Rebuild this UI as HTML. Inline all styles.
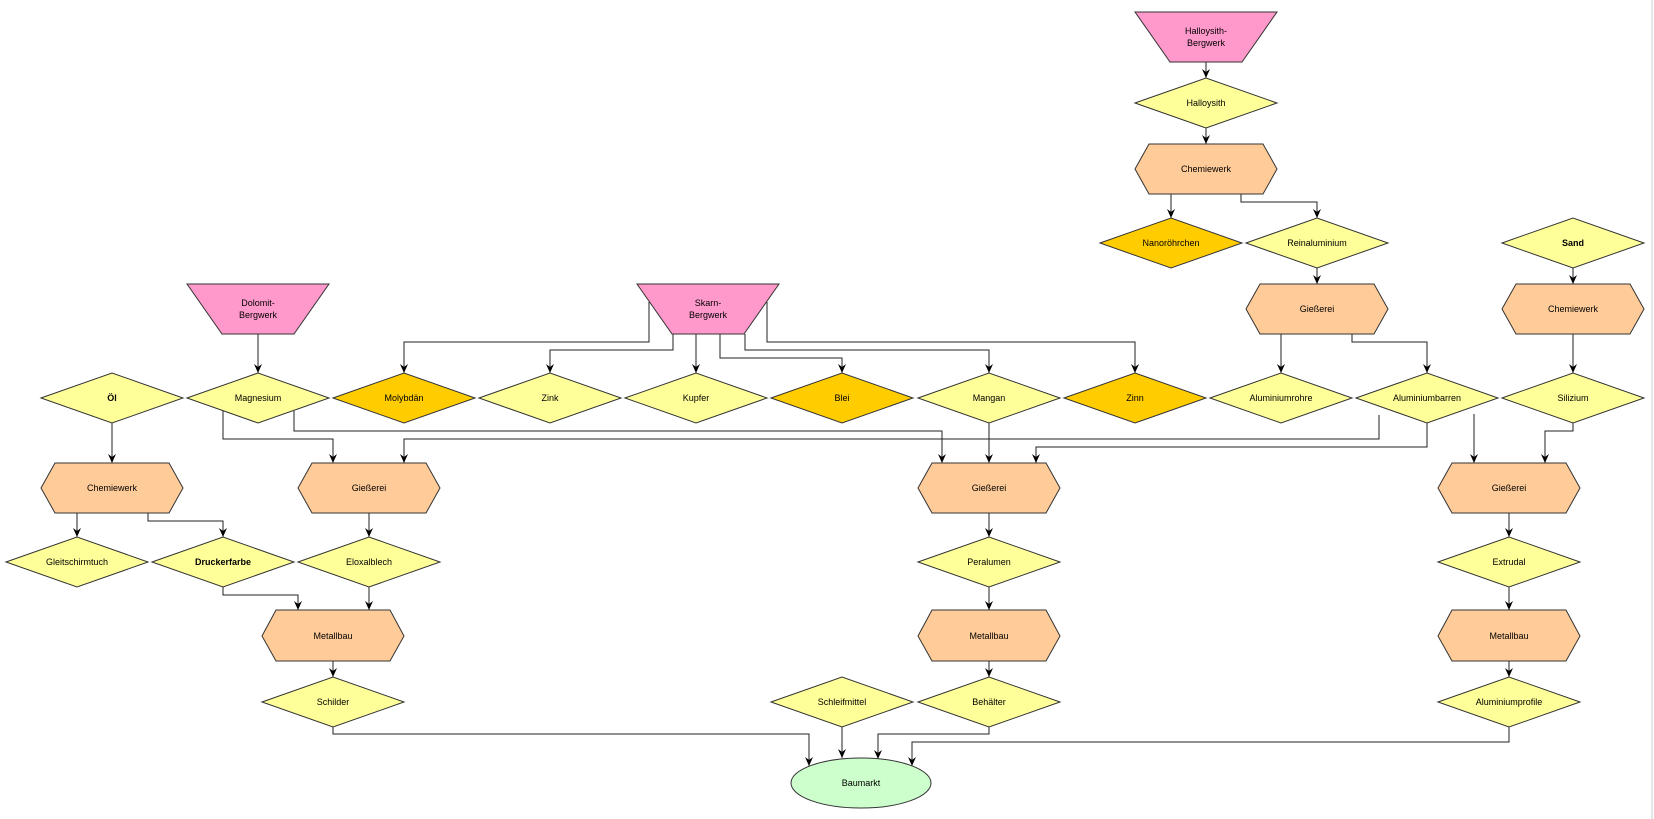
<!DOCTYPE html>
<html><head><meta charset="utf-8"><style>
html,body{margin:0;padding:0;background:#fff;}
svg{display:block;}
text{font-family:"Liberation Sans",Arial,sans-serif;font-size:9px;fill:#000;text-anchor:middle;dominant-baseline:central;}
.b{font-weight:bold;}
.y{fill:#FFFF99;stroke:#333;stroke-width:1;}
.o{fill:#FFCC00;stroke:#333;stroke-width:1;}
.p{fill:#FFCC99;stroke:#333;stroke-width:1;}
.k{fill:#FF99CC;stroke:#333;stroke-width:1;}
.g{fill:#CCFFCC;stroke:#333;stroke-width:1;}
.c{fill:none;stroke:#222;stroke-width:1;marker-end:url(#a2);}
</style></head><body>
<svg width="1654" height="819" viewBox="0 0 1654 819" xmlns="http://www.w3.org/2000/svg">
<defs>
<marker id="a2" markerWidth="8" markerHeight="10" refX="4" refY="9" orient="0" markerUnits="userSpaceOnUse"><path d="M0,0 L4,9 L8,0 L4,3 Z" fill="#000"/></marker></defs>
<line x1="1652" y1="0" x2="1652" y2="819" stroke="#ccc"/>

<path class="c" d="M1206,62V78"/>
<path class="c" d="M1206,128V144"/>
<path class="c" d="M1171,194V218"/>
<path class="c" d="M1241,194V202H1317V218"/>
<path class="c" d="M1317,268V284"/>
<path class="c" d="M1281,334V373"/>
<path class="c" d="M1352,334V342H1427V373"/>
<path class="c" d="M1573,268V284"/>
<path class="c" d="M1573,334V373"/>
<path class="c" d="M258,334V373"/>
<path class="c" d="M649,302V342H404V373"/>
<path class="c" d="M673,334V350H550V373"/>
<path class="c" d="M696,334V373"/>
<path class="c" d="M720,334V358H842V373"/>
<path class="c" d="M745,334V350H989V373"/>
<path class="c" d="M767,302V342H1135V373"/>
<path class="c" d="M112,423V463"/>
<path class="c" d="M223,410V439H333V463"/>
<path class="c" d="M294,411V431H942V463"/>
<path class="c" d="M1379,415V439H404V463"/>
<path class="c" d="M1427,423V447H1036V463"/>
<path class="c" d="M989,423V463"/>
<path class="c" d="M1474,414V463"/>
<path class="c" d="M1573,423V431H1545V463"/>
<path class="c" d="M77,513V537"/>
<path class="c" d="M148,513V521H223V537"/>
<path class="c" d="M369,513V537"/>
<path class="c" d="M223,587V595H298V610"/>
<path class="c" d="M369,587V610"/>
<path class="c" d="M333,661V677"/>
<path class="c" d="M989,513V537"/>
<path class="c" d="M989,587V610"/>
<path class="c" d="M989,661V677"/>
<path class="c" d="M1509,513V537"/>
<path class="c" d="M1509,587V610"/>
<path class="c" d="M1509,661V677"/>
<path class="c" d="M333,727V734H809V766"/>
<path class="c" d="M842,727V758"/>
<path class="c" d="M989,727V734H878V759"/>
<path class="c" d="M1509,727V742H912V766"/>

<polygon class="k" points="1135,12 1277,12 1242,62 1170,62"/>
<text x="1206" y="31">Halloysith-</text><text x="1206" y="43">Bergwerk</text>
<polygon class="k" points="187,284 329,284 294,334 222,334"/>
<text x="258" y="303">Dolomit-</text><text x="258" y="315">Bergwerk</text>
<polygon class="k" points="637,284 779,284 744,334 672,334"/>
<text x="708" y="303">Skarn-</text><text x="708" y="315">Bergwerk</text>

<polygon class="p" points="1135,169 1149,144 1263,144 1277,169 1263,194 1149,194"/><text x="1206" y="169">Chemiewerk</text>
<polygon class="p" points="1246,309 1260,284 1374,284 1388,309 1374,334 1260,334"/><text x="1317" y="309">Gießerei</text>
<polygon class="p" points="1502,309 1516,284 1630,284 1644,309 1630,334 1516,334"/><text x="1573" y="309">Chemiewerk</text>
<polygon class="p" points="41,488 55,463 169,463 183,488 169,513 55,513"/><text x="112" y="488">Chemiewerk</text>
<polygon class="p" points="298,488 312,463 426,463 440,488 426,513 312,513"/><text x="369" y="488">Gießerei</text>
<polygon class="p" points="918,488 932,463 1046,463 1060,488 1046,513 932,513"/><text x="989" y="488">Gießerei</text>
<polygon class="p" points="1438,488 1452,463 1566,463 1580,488 1566,513 1452,513"/><text x="1509" y="488">Gießerei</text>
<polygon class="p" points="262,636 276,610 390,610 404,636 390,661 276,661"/><text x="333" y="636">Metallbau</text>
<polygon class="p" points="918,636 932,610 1046,610 1060,636 1046,661 932,661"/><text x="989" y="636">Metallbau</text>
<polygon class="p" points="1438,636 1452,610 1566,610 1580,636 1566,661 1452,661"/><text x="1509" y="636">Metallbau</text>

<polygon class="y" points="1135,103 1206,78 1277,103 1206,128"/><text x="1206" y="103">Halloysith</text>
<polygon class="o" points="1100,243 1171,218 1242,243 1171,268"/><text x="1171" y="243">Nanoröhrchen</text>
<polygon class="y" points="1246,243 1317,218 1388,243 1317,268"/><text x="1317" y="243">Reinaluminium</text>
<polygon class="y" points="1502,243 1573,218 1644,243 1573,268"/><text class="b" x="1573" y="243">Sand</text>

<polygon class="y" points="41,398 112,373 183,398 112,423"/><text class="b" x="112" y="398">Öl</text>
<polygon class="y" points="187,398 258,373 329,398 258,423"/><text x="258" y="398">Magnesium</text>
<polygon class="o" points="333,398 404,373 475,398 404,423"/><text x="404" y="398">Molybdän</text>
<polygon class="y" points="479,398 550,373 621,398 550,423"/><text x="550" y="398">Zink</text>
<polygon class="y" points="625,398 696,373 767,398 696,423"/><text x="696" y="398">Kupfer</text>
<polygon class="o" points="771,398 842,373 913,398 842,423"/><text x="842" y="398">Blei</text>
<polygon class="y" points="918,398 989,373 1060,398 989,423"/><text x="989" y="398">Mangan</text>
<polygon class="o" points="1064,398 1135,373 1206,398 1135,423"/><text x="1135" y="398">Zinn</text>
<polygon class="y" points="1210,398 1281,373 1352,398 1281,423"/><text x="1281" y="398">Aluminiumrohre</text>
<polygon class="y" points="1356,398 1427,373 1498,398 1427,423"/><text x="1427" y="398">Aluminiumbarren</text>
<polygon class="y" points="1502,398 1573,373 1644,398 1573,423"/><text x="1573" y="398">Silizium</text>

<polygon class="y" points="6,562 77,537 148,562 77,587"/><text x="77" y="562">Gleitschirmtuch</text>
<polygon class="y" points="152,562 223,537 294,562 223,587"/><text class="b" x="223" y="562">Druckerfarbe</text>
<polygon class="y" points="298,562 369,537 440,562 369,587"/><text x="369" y="562">Eloxalblech</text>
<polygon class="y" points="918,562 989,537 1060,562 989,587"/><text x="989" y="562">Peralumen</text>
<polygon class="y" points="1438,562 1509,537 1580,562 1509,587"/><text x="1509" y="562">Extrudal</text>

<polygon class="y" points="262,702 333,677 404,702 333,727"/><text x="333" y="702">Schilder</text>
<polygon class="y" points="771,702 842,677 913,702 842,727"/><text x="842" y="702">Schleifmittel</text>
<polygon class="y" points="918,702 989,677 1060,702 989,727"/><text x="989" y="702">Behälter</text>
<polygon class="y" points="1438,702 1509,677 1580,702 1509,727"/><text x="1509" y="702">Aluminiumprofile</text>

<ellipse class="g" cx="861" cy="783" rx="70" ry="25"/><text x="861" y="783">Baumarkt</text>
</svg>
</body></html>
